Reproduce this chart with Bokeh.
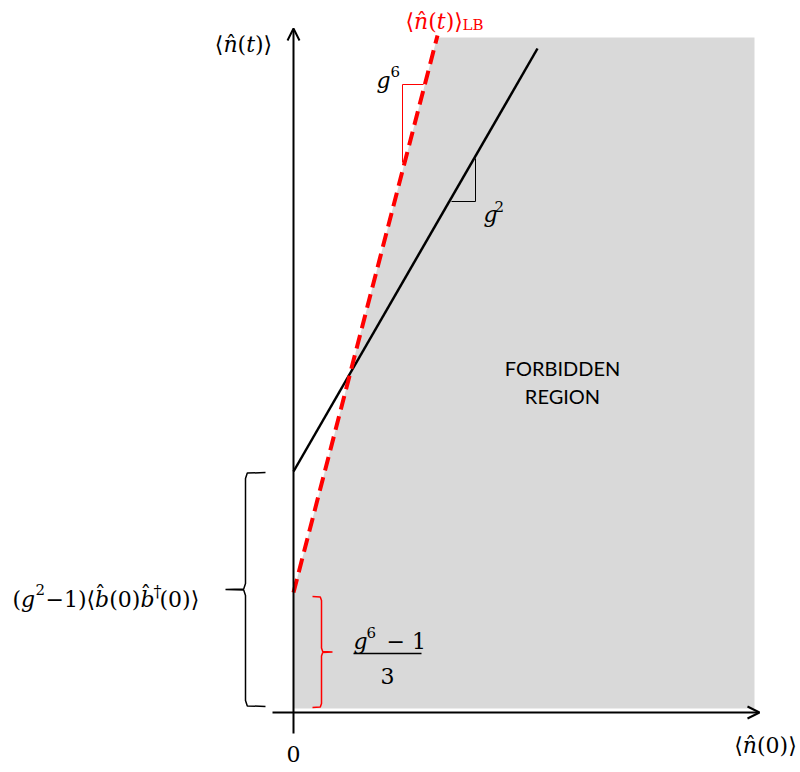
from bokeh.plotting import figure
from bokeh.models import Range1d, Arrow, OpenHead
from bokeh.core.properties import value
from bokeh.embed import file_html
from bokeh.resources import INLINE
import numpy as np

# ---- schematic data (axis units: <n(0)> horizontally, <n(t)> vertically) ----
lb_x = [0, 144]            # lower bound line  <n(t)>_LB
lb_y = [120, 677]
traj_x = [0, 244]          # actual line (slope g^2)
traj_y = [241, 664]
lb_intercept = 120         # (g^6 - 1)/3
traj_intercept = 241       # (g^2 - 1) <b b+>
region_x = [0, 0, 143.5, 461, 461]   # forbidden region outline
region_y = [4, 120, 675, 675, 4]
tri6_x = [109, 109, 130]   # slope triangle of the bound (g^6)
tri6_y = [550, 628, 628]
tri2_x = [158, 182, 182]   # slope triangle of the line (g^2)
tri2_y = [511, 511, 554]
x_axis_extent = [-21, 466]
y_axis_extent = [-21, 684]

GRAY = "#d9d9d9"
RED = "#ff0000"
SERIF = "DejaVu Serif"

p = figure(width=800, height=772, x_range=Range1d(-293, 507), y_range=Range1d(-60, 712),
           output_backend="svg", toolbar_location=None, x_axis_type=None, y_axis_type=None,
           min_border=0)
p.grid.visible = False
p.outline_line_color = None
p.background_fill_color = "white"

p.patch(region_x, region_y, fill_color=GRAY, line_color=None)

# axes
p.add_layout(Arrow(end=OpenHead(size=12, line_width=2), x_start=x_axis_extent[0], y_start=0,
                   x_end=x_axis_extent[1], y_end=0, line_width=2))
p.add_layout(Arrow(end=OpenHead(size=12, line_width=2), x_start=0, y_start=y_axis_extent[0],
                   x_end=0, y_end=y_axis_extent[1], line_width=2))

p.line(traj_x, traj_y, line_color="black", line_width=2.5)
p.line(lb_x, lb_y, line_color=RED, line_width=4, line_dash="14 7")
p.line(tri6_x, tri6_y, line_color=RED, line_width=1)
p.line(tri2_x, tri2_y, line_color="black", line_width=1)


def brace(x_end, x_mid, x_tip, y0, y1, r=6):
    """curly brace from y0 to y1: ends at x_end, spine at x_mid, tip at x_tip"""
    ym = (y0 + y1) / 2
    s = np.sign(x_end - x_mid)
    d = np.sign(x_tip - x_mid)
    xs = [x_end, x_mid + s * r * 0.3, x_mid, x_mid, x_mid + d * r * 0.3, x_tip,
          x_mid + d * r * 0.3, x_mid, x_mid, x_mid + s * r * 0.3, x_end]
    ys = [y1, y1 - r * 0.1, y1 - r, ym + r, ym + r * 0.1, ym,
          ym - r * 0.1, ym - r, y0 + r, y0 + r * 0.1, y0]
    return xs, ys


bx, by = brace(-28, -48, -68, 6, traj_intercept - 1)
p.line(bx, by, line_color="black", line_width=1.5)
rx, ry = brace(19, 28, 39, 5, lb_intercept - 4, r=4)
p.line(rx, ry, line_color=RED, line_width=1.5)

# fraction bar
p.line([60, 128], [59, 59], line_color="black", line_width=1.5)


def txt(x, y, s, size="22px", color="black", align="left", base="alphabetic", font=SERIF):
    p.text(x=[x], y=[y], text=[s], text_font=value(font), text_font_size=value(size),
           text_color=color, text_align=align, text_baseline=base)


# axis labels
txt(-50, 668, "⟨𝑛̂(𝑡)⟩", align="center")
txt(472, -33, "⟨𝑛̂(0)⟩", align="center")
txt(0, -41, "0", align="center", base="middle")

# lower-bound label
txt(112, 691, "⟨𝑛̂(𝑡)⟩", color=RED)
txt(169, 688, "LB", size="15px", color=RED)

# slope labels
txt(83, 632, "𝑔")
txt(97, 641, "6", size="15px")
txt(190, 498, "𝑔")
txt(201, 506, "2", size="15px")

# region label
txt(269, 345, "FORBIDDEN", size="20px", align="center", base="middle", font="Lato")
txt(269, 317, "REGION", size="20px", align="center", base="middle", font="Lato")

# fraction (g^6 - 1)/3
txt(60, 71, "𝑔")
txt(73, 80, "6", size="15px")
txt(93, 71, "− 1")
txt(94, 37, "3", align="center")

# (g^2 - 1) <b(0) b+(0)>
txt(-281, 113, "(𝑔")
txt(-258, 123, "2", size="15px")
txt(-248, 113, "−1)")
txt(-207, 113, "⟨𝑏̂(0)")
txt(-153, 113, "𝑏̂")
txt(-140, 121, "†", size="16px")
txt(-134, 113, "(0)⟩")

open("out.html", "w").write(file_html(p, INLINE))
